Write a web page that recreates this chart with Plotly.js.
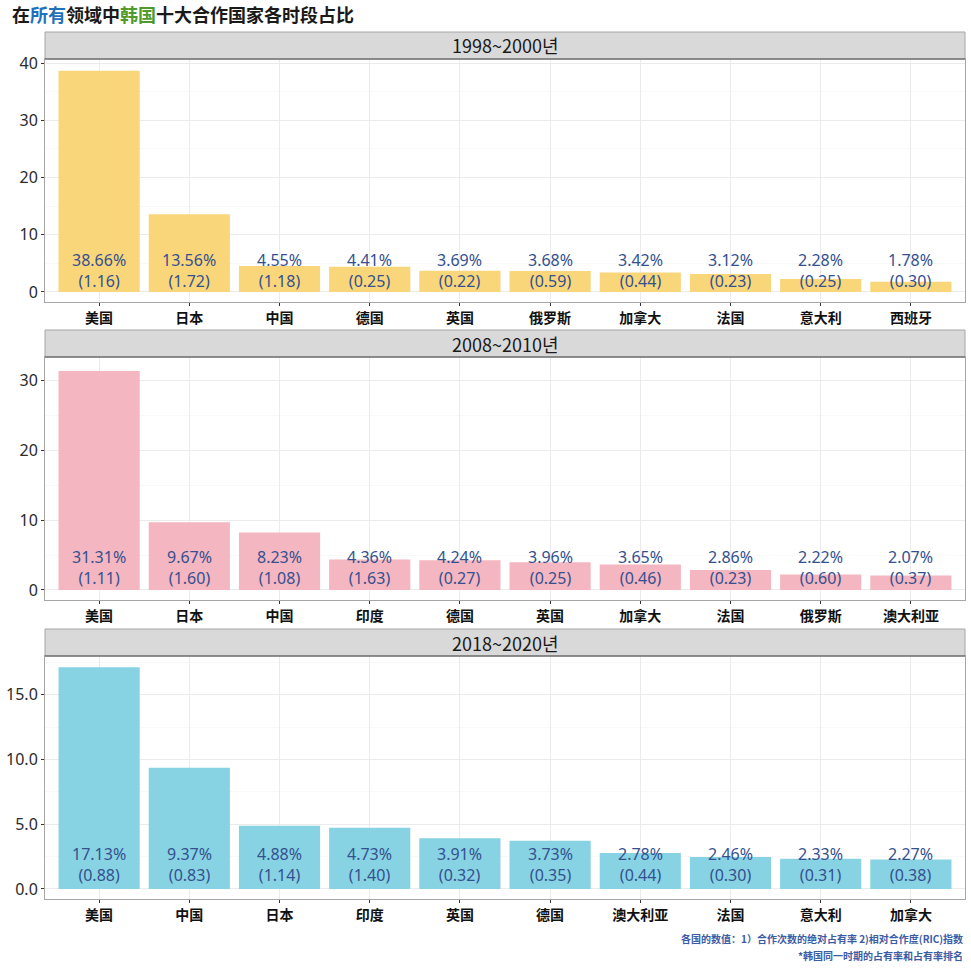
<!DOCTYPE html>
<html>
<head>
<meta charset="utf-8">
<script src="https://cdn.plot.ly/plotly-3.0.1.min.js"></script>
<style>html,body{margin:0;padding:0;background:#fff}#chart{width:971px;height:971px}</style>
</head>
<body>
<div id="chart"></div>
<script>
// ---- data ----
const periods = ["1998~2000년", "2008~2010년", "2018~2020년"];

const countries1 = ["美国","日本","中国","德国","英国","俄罗斯","加拿大","法国","意大利","西班牙"];
const share1 = [38.66, 13.56, 4.55, 4.41, 3.69, 3.68, 3.42, 3.12, 2.28, 1.78];
const ric1 = [1.16, 1.72, 1.18, 0.25, 0.22, 0.59, 0.44, 0.23, 0.25, 0.30];

const countries2 = ["美国","日本","中国","印度","德国","英国","加拿大","法国","俄罗斯","澳大利亚"];
const share2 = [31.31, 9.67, 8.23, 4.36, 4.24, 3.96, 3.65, 2.86, 2.22, 2.07];
const ric2 = [1.11, 1.60, 1.08, 1.63, 0.27, 0.25, 0.46, 0.23, 0.60, 0.37];

const countries3 = ["美国","中国","日本","印度","英国","德国","澳大利亚","法国","意大利","加拿大"];
const share3 = [17.13, 9.37, 4.88, 4.73, 3.91, 3.73, 2.78, 2.46, 2.33, 2.27];
const ric3 = [0.88, 0.83, 1.14, 1.40, 0.32, 0.35, 0.44, 0.30, 0.31, 0.38];

const yTicks1 = [0, 10, 20, 30, 40];
const yTicks2 = [0, 10, 20, 30];
const yTicks3 = [0, 5, 10, 15];

const footer1 = "各国的数值：1）合作次数的绝对占有率 2)相对合作度(RIC)指数";
const footer2 = "*韩国同一时期的占有率和占有率排名";

// ---- layout helpers ----
const H = 971;
const py = p => 1 - p / H;
const panels = [
  {cats: countries1, share: share1, ric: ric1, ticks: yTicks1, fmt: "", color: "#FAD67B", plot: [59, 302], strip: [32, 59], range: [-1.75, 40.7], shift: 21},
  {cats: countries2, share: share2, ric: ric2, ticks: yTicks2, fmt: "", color: "#F4B6C0", plot: [357, 600], strip: [330, 357], range: [-1.43, 33.3], shift: 22.5},
  {cats: countries3, share: share3, ric: ric3, ticks: yTicks3, fmt: ".1f", color: "#87D3E3", plot: [656, 899], strip: [629, 656], range: [-0.78, 18.0], shift: 24.5}
];

const data = [];
const layout = {
  width: 971, height: 971,
  margin: {l: 45, r: 6, t: 0, b: 0},
  paper_bgcolor: "#fff", plot_bgcolor: "#fff",
  showlegend: false,
  bargap: 0.1,
  font: {family: "Noto Sans, Noto Sans CJK SC", color: "#333"},
  title: {
    text: "<b>在<span style='color:#1f70bd'>所有</span>领域中<span style='color:#4e9a2c'>韩国</span>十大合作国家各时段占比</b>",
    x: 12 / 971, xref: "container", xanchor: "left",
    y: py(16), yref: "container", yanchor: "middle",
    font: {family: "Noto Sans CJK SC", size: 18, color: "#1a1a1a"}
  },
  shapes: [],
  annotations: []
};

panels.forEach((p, i) => {
  const n = i + 1;
  const xa = "x" + (n === 1 ? "" : n);
  const ya = "y" + (n === 1 ? "" : n);
  data.push({
    type: "bar", x: p.cats, y: p.share, xaxis: xa, yaxis: ya,
    marker: {color: p.color, line: {width: 0}}, hoverinfo: "x+y"
  });
  layout["xaxis" + (n === 1 ? "" : n)] = {
    anchor: ya, domain: [0, 1],
    type: "category", categoryorder: "array", categoryarray: p.cats,
    range: [-0.6, 9.6], fixedrange: true,
    showgrid: true, gridcolor: "#ebebeb", gridwidth: 1,
    showline: true, linecolor: "#a6a6a6", linewidth: 1, mirror: true,
    ticks: "outside", ticklen: 3, tickcolor: "#333", tickwidth: 1,
    tickfont: {family: "Noto Sans CJK SC", size: 14, color: "#111", weight: "bold"},
    zeroline: false
  };
  layout["yaxis" + (n === 1 ? "" : n)] = {
    anchor: xa, domain: [py(p.plot[1]), py(p.plot[0])],
    range: p.range, fixedrange: true,
    tickmode: "array", tickvals: p.ticks,
    ticktext: p.ticks.map(v => p.fmt ? v.toFixed(1) : String(v)),
    showgrid: true, gridcolor: "#ebebeb", gridwidth: 1,
    minor: {dtick: (p.ticks[1] - p.ticks[0]) / 2, tick0: 0, showgrid: true, gridcolor: "#f3f3f3", gridwidth: 0.6},
    showline: true, linecolor: "#a6a6a6", linewidth: 1, mirror: true,
    ticks: "outside", ticklen: 3, tickcolor: "#333", tickwidth: 1,
    tickfont: {family: "Noto Sans", size: 16, color: "#2b2b2b"},
    zeroline: false
  };
  // strip
  layout.shapes.push({
    type: "rect", xref: "paper", yref: "paper",
    x0: 0, x1: 1, y0: py(p.strip[1]), y1: py(p.strip[0]),
    fillcolor: "#d9d9d9", line: {color: "#a6a6a6", width: 1}, layer: "above"
  });
  layout.shapes.push({
    type: "line", xref: "paper", yref: "paper",
    x0: 0, x1: 1, y0: py(p.strip[1]), y1: py(p.strip[1]),
    line: {color: "#4d4d4d", width: 1.2}, layer: "above"
  });
  layout.annotations.push({
    xref: "paper", yref: "paper", x: 0.5, y: py((p.strip[0] + p.strip[1]) / 2),
    xanchor: "center", yanchor: "middle", showarrow: false,
    text: periods[i],
    font: {family: "Noto Sans CJK KR", size: 18, color: "#1a1a1a"}
  });
  // value labels (two lines in one text)
  p.cats.forEach((c, k) => {
    layout.annotations.push({
      xref: xa, yref: ya, x: c, y: 0, yshift: p.shift,
      xanchor: "center", yanchor: "middle", showarrow: false,
      text: p.share[k].toFixed(2) + "%<br>(" + p.ric[k].toFixed(2) + ")",
      font: {family: "Noto Sans", size: 16, color: "#34508f"}
    });
  });
});

// footer
layout.annotations.push({
  xref: "paper", yref: "paper", x: 1, y: py(938), xanchor: "right", yanchor: "middle",
  showarrow: false, text: "<b>" + footer1 + "</b>",
  font: {family: "Noto Sans CJK SC", size: 10, color: "#3b5ba5"}
});
layout.annotations.push({
  xref: "paper", yref: "paper", x: 1, y: py(955), xanchor: "right", yanchor: "middle",
  showarrow: false, text: "<b>" + footer2 + "</b>",
  font: {family: "Noto Sans CJK SC", size: 10, color: "#3b5ba5"}
});

Plotly.newPlot("chart", data, layout, {displayModeBar: false, staticPlot: true});
</script>
</body>
</html>
